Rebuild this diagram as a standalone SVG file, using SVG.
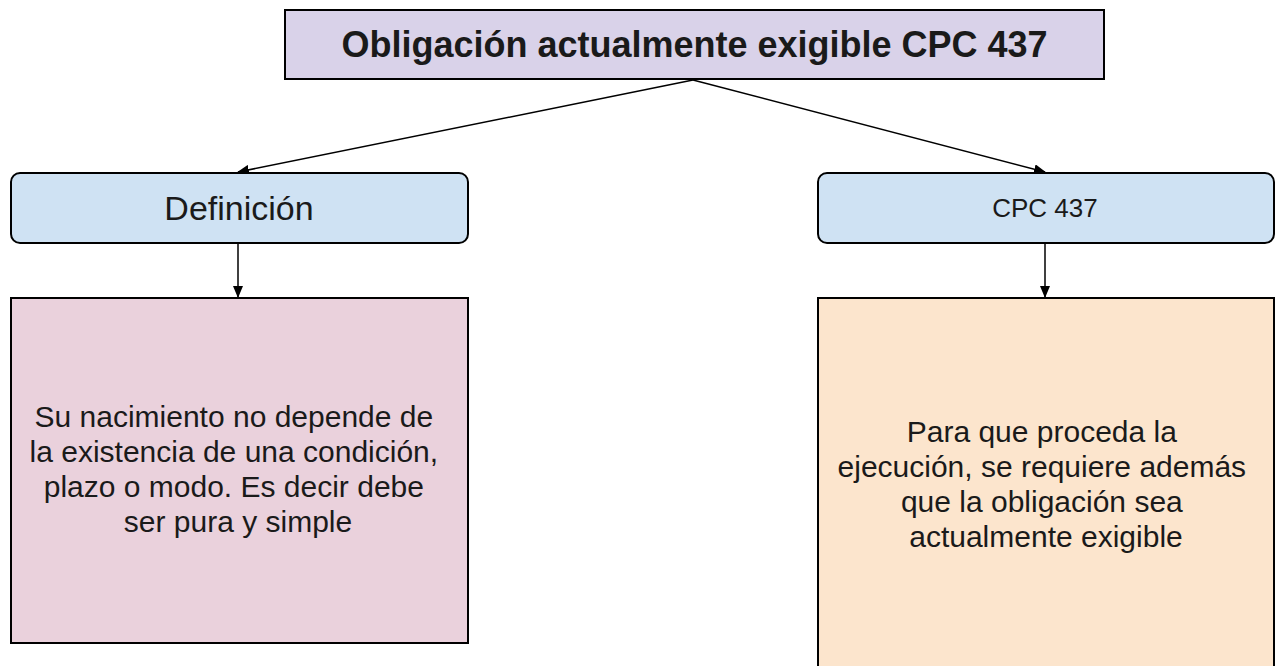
<svg xmlns="http://www.w3.org/2000/svg" width="1281" height="666" viewBox="0 0 1281 666">
<style>
.box{stroke:#000;stroke-width:2}
.t{font-family:"Liberation Sans",Arial,sans-serif;fill:#1a1a1a;text-anchor:middle}
.conn{stroke:#000;stroke-width:1.5;fill:none}
</style>
<defs>
<marker id="ah" markerWidth="12" markerHeight="10" refX="11" refY="5" orient="auto" markerUnits="userSpaceOnUse">
<path d="M0,0 L12,5 L0,10 Z" fill="#000"/>
</marker>
</defs>
<rect width="1281" height="666" fill="#fff"/>
<g id="connectors">
<line class="conn" x1="693" y1="80" x2="238" y2="172" marker-end="url(#ah)"/>
<line class="conn" x1="693" y1="80" x2="1045" y2="172" marker-end="url(#ah)"/>
<line class="conn" x1="238" y1="243" x2="238" y2="297" marker-end="url(#ah)"/>
<line class="conn" x1="1045" y1="243" x2="1045" y2="297" marker-end="url(#ah)"/>
</g>
<g id="title">
<rect class="box" x="285" y="10" width="819" height="69" fill="#d9d2e9"/>
<text class="t" x="694.5" y="57" font-size="36" font-weight="bold" fill="#000">Obligación actualmente exigible CPC 437</text>
</g>
<g id="definicion">
<rect class="box" x="11" y="173" width="457" height="70" rx="9" fill="#cfe2f3"/>
<text class="t" x="239" y="220" font-size="34">Definición</text>
</g>
<g id="cpc">
<rect class="box" x="818" y="173" width="456" height="70" rx="9" fill="#cfe2f3"/>
<text class="t" x="1045" y="217" font-size="26">CPC 437</text>
</g>
<g id="def-text">
<rect class="box" x="11" y="298" width="457" height="345" fill="#ead1dc"/>
<text class="t" font-size="30">
<tspan x="238" y="427">Su nacimiento no depende de</tspan>
<tspan x="238" y="462">la existencia de una condición,</tspan>
<tspan x="238" y="497">plazo o modo. Es decir debe</tspan>
<tspan x="238" y="532">ser pura y simple</tspan>
</text>
</g>
<g id="cpc-text">
<rect class="box" x="818" y="298" width="456" height="380" fill="#fce5cd"/>
<text class="t" font-size="30">
<tspan x="1046" y="442">Para que proceda la</tspan>
<tspan x="1046" y="477">ejecución, se requiere además</tspan>
<tspan x="1046" y="512">que la obligación sea</tspan>
<tspan x="1046" y="547">actualmente exigible</tspan>
</text>
</g>
</svg>
